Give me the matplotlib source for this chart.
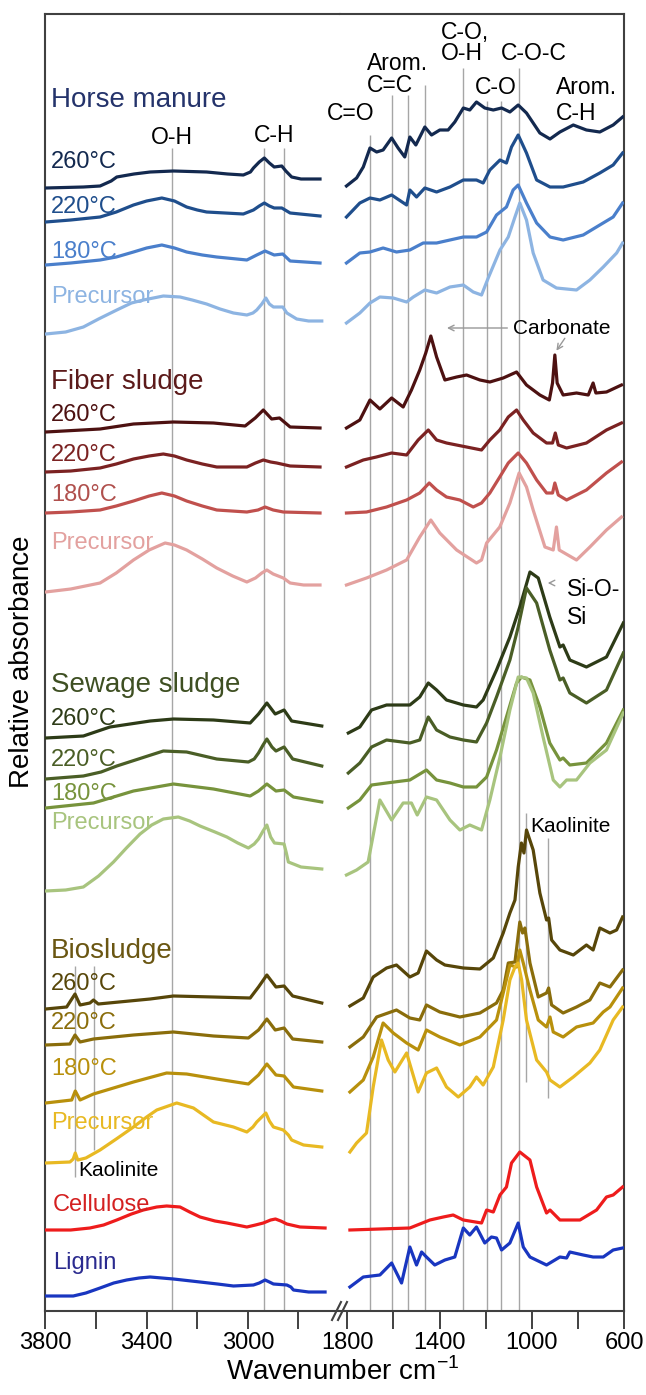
import matplotlib.pyplot as plt

plt.rcParams["font.family"] = ["Liberation Sans", "DejaVu Sans"]

# FTIR spectra, stacked with vertical offsets.
# Each list holds (wavenumber cm-1, offset absorbance) pairs,
# "_l" = 3800-2700 region, "_r" = 1800-600 region.

horse_260_l = [(3799, 1123), (3650, 1124), (3584, 1125), (3540, 1130), (3518, 1134), (3450, 1137), (3386, 1139),
               (3294, 1140), (3163, 1139), (3080, 1137), (3018, 1136), (2990, 1139), (2978, 1143), (2955, 1149),
               (2935, 1153), (2915, 1148), (2896, 1144), (2866, 1145), (2850, 1140), (2827, 1134), (2790, 1132),
               (2715, 1132)]
horse_220_l = [(3799, 1089), (3700, 1091), (3584, 1094), (3520, 1099), (3452, 1106), (3400, 1110), (3340, 1113),
               (3290, 1110), (3242, 1104), (3200, 1101), (3163, 1099), (3018, 1097), (2978, 1101), (2955, 1105),
               (2935, 1108), (2915, 1105), (2896, 1103), (2866, 1103), (2833, 1098), (2715, 1095)]
horse_180_l = [(3799, 1046), (3700, 1048), (3584, 1051), (3520, 1054), (3452, 1059), (3400, 1063), (3340, 1066),
               (3290, 1063), (3242, 1059), (3180, 1056), (3123, 1054), (3004, 1051), (2965, 1056), (2932, 1060),
               (2896, 1056), (2862, 1057), (2833, 1050), (2715, 1048)]
horse_pre_l = [(3799, 977), (3720, 979), (3650, 984), (3590, 992), (3518, 1001), (3460, 1008), (3413, 1011),
               (3334, 1015), (3268, 1014), (3220, 1011), (3163, 1007), (3110, 1002), (3057, 998), (3004, 996),
               (2980, 998), (2965, 1001), (2945, 1007), (2929, 1013), (2915, 1007), (2899, 1004), (2862, 1004),
               (2846, 998), (2807, 992), (2760, 990), (2708, 990)]

horse_260_r = [(1804, 1125), (1760, 1133), (1731, 1144), (1702, 1163), (1673, 1159), (1645, 1161), (1608, 1173),
               (1580, 1163), (1551, 1154), (1529, 1174), (1503, 1166), (1464, 1184), (1435, 1176), (1399, 1181),
               (1363, 1181), (1334, 1189), (1297, 1203), (1269, 1201), (1240, 1209), (1204, 1203), (1167, 1201),
               (1131, 1203), (1095, 1199), (1059, 1206), (1023, 1198), (965, 1178), (921, 1172), (878, 1179),
               (820, 1186), (763, 1181), (705, 1179), (647, 1186), (606, 1194)]
horse_220_r = [(1804, 1094), (1746, 1108), (1702, 1113), (1659, 1111), (1608, 1116), (1543, 1106), (1529, 1121),
               (1500, 1114), (1464, 1123), (1413, 1119), (1355, 1124), (1297, 1131), (1240, 1131), (1211, 1128),
               (1182, 1141), (1138, 1151), (1110, 1148), (1088, 1164), (1059, 1176), (1023, 1158), (979, 1131),
               (921, 1124), (864, 1124), (777, 1129), (705, 1138), (647, 1146), (606, 1158)]
horse_180_r = [(1804, 1048), (1746, 1058), (1702, 1059), (1645, 1063), (1587, 1059), (1529, 1061), (1471, 1068),
               (1413, 1068), (1355, 1071), (1297, 1074), (1240, 1074), (1196, 1079), (1153, 1096), (1110, 1104),
               (1081, 1121), (1059, 1126), (1023, 1108), (979, 1088), (921, 1074), (864, 1071), (777, 1076),
               (705, 1086), (647, 1094), (606, 1108)]
horse_pre_r = [(1804, 988), (1746, 998), (1702, 1008), (1659, 1014), (1601, 1013), (1543, 1009), (1514, 1014),
               (1464, 1021), (1413, 1018), (1355, 1024), (1297, 1026), (1254, 1019), (1218, 1016), (1189, 1033),
               (1138, 1061), (1102, 1074), (1073, 1094), (1052, 1108), (1023, 1091), (994, 1058), (951, 1031),
               (893, 1023), (806, 1021), (748, 1031), (690, 1044), (632, 1058), (606, 1068)]

fiber_260_l = [(3799, 879), (3584, 882), (3452, 887), (3294, 889), (3136, 888), (3011, 885), (2971, 893),
               (2939, 901), (2906, 892), (2875, 893), (2833, 884), (2715, 883)]
fiber_220_l = [(3799, 839), (3700, 840), (3584, 843), (3520, 847), (3452, 852), (3390, 855), (3334, 857),
               (3290, 855), (3242, 851), (3180, 847), (3123, 844), (3004, 844), (2970, 848), (2939, 851),
               (2910, 849), (2886, 848), (2833, 845), (2715, 844)]
fiber_180_l = [(3799, 798), (3700, 799), (3584, 801), (3520, 805), (3452, 810), (3390, 815), (3340, 818),
               (3290, 815), (3242, 810), (3180, 805), (3123, 801), (3004, 799), (2960, 801), (2932, 804),
               (2900, 801), (2860, 799), (2715, 798)]
fiber_pre_l = [(3799, 719), (3700, 722), (3584, 728), (3520, 738), (3452, 751), (3390, 761), (3327, 768),
               (3290, 766), (3242, 761), (3180, 752), (3123, 743), (3060, 735), (3004, 729), (2970, 733),
               (2945, 738), (2925, 741), (2900, 737), (2860, 733), (2833, 728), (2780, 726), (2715, 726)]

fiber_260_r = [(1804, 883), (1746, 891), (1702, 911), (1659, 902), (1608, 913), (1558, 904), (1522, 921),
               (1486, 941), (1460, 958), (1438, 975), (1413, 954), (1377, 931), (1326, 934), (1283, 936),
               (1225, 931), (1182, 929), (1124, 933), (1066, 939), (1023, 926), (965, 916), (924, 911),
               (910, 928), (900, 956), (890, 928), (864, 916), (806, 918), (755, 916), (734, 928), (722, 918),
               (676, 919), (611, 926)]
fiber_220_r = [(1804, 844), (1731, 851), (1674, 854), (1608, 858), (1543, 856), (1493, 871), (1449, 881),
               (1413, 871), (1370, 868), (1283, 864), (1218, 861), (1182, 871), (1139, 881), (1102, 894),
               (1066, 901), (1037, 891), (994, 878), (936, 868), (910, 868), (898, 878), (885, 866), (849, 863),
               (763, 868), (676, 881), (611, 888)]
fiber_180_r = [(1804, 798), (1717, 799), (1630, 804), (1543, 811), (1486, 818), (1445, 828), (1413, 821),
               (1370, 814), (1312, 811), (1254, 804), (1218, 808), (1182, 818), (1139, 834), (1102, 848),
               (1059, 858), (1023, 848), (979, 831), (936, 818), (910, 818), (900, 828), (885, 816), (849, 811),
               (763, 821), (676, 838), (611, 849)]
fiber_pre_r = [(1804, 726), (1717, 733), (1630, 741), (1543, 751), (1486, 774), (1438, 791), (1399, 778),
               (1326, 761), (1240, 748), (1218, 751), (1196, 768), (1139, 784), (1095, 808), (1055, 838),
               (1023, 824), (994, 801), (943, 764), (907, 761), (893, 784), (881, 761), (806, 751), (748, 764),
               (676, 781), (611, 794)]

sewage_260_l = [(3799, 573), (3650, 575), (3545, 584), (3386, 590), (3294, 592), (3136, 591), (2991, 588),
                (2958, 597), (2925, 608), (2892, 597), (2857, 601), (2827, 590), (2708, 585)]
sewage_220_l = [(3799, 532), (3650, 535), (3580, 539), (3518, 545), (3420, 553), (3334, 560), (3242, 559),
                (3123, 552), (2998, 549), (2975, 552), (2958, 558), (2940, 566), (2925, 572), (2905, 564),
                (2889, 560), (2857, 564), (2840, 558), (2823, 552), (2708, 545)]
sewage_180_l = [(3799, 503), (3610, 508), (3452, 520), (3294, 527), (3136, 522), (2991, 515), (2958, 520),
                (2925, 527), (2889, 520), (2857, 521), (2820, 514), (2708, 509)]
sewage_pre_l = [(3799, 420), (3720, 421), (3650, 424), (3590, 435), (3531, 449), (3480, 463), (3426, 477),
                (3380, 486), (3334, 492), (3275, 494), (3230, 490), (3189, 485), (3130, 479), (3083, 474),
                (3040, 468), (2998, 463), (2975, 467), (2958, 472), (2940, 480), (2925, 486), (2910, 474),
                (2895, 468), (2857, 467), (2848, 458), (2840, 449), (2790, 444), (2708, 442)]

sewage_260_r = [(1796, 578), (1746, 584), (1695, 601), (1630, 606), (1529, 606), (1486, 614), (1449, 628),
                (1413, 621), (1370, 611), (1297, 606), (1240, 604), (1211, 611), (1153, 641), (1095, 674),
                (1052, 704), (1008, 739), (972, 733), (922, 694), (878, 664), (864, 666), (835, 651),
                (763, 644), (676, 654), (603, 688)]
sewage_220_r = [(1796, 538), (1746, 548), (1695, 564), (1630, 571), (1529, 568), (1486, 571), (1449, 594),
                (1413, 581), (1355, 574), (1297, 571), (1240, 569), (1196, 588), (1153, 614), (1095, 651),
                (1059, 684), (1023, 723), (979, 708), (922, 661), (878, 631), (864, 633), (835, 618),
                (763, 608), (676, 621), (603, 658)]
sewage_180_r = [(1796, 503), (1746, 511), (1695, 526), (1630, 528), (1529, 531), (1457, 541), (1413, 531),
                (1355, 528), (1297, 524), (1240, 524), (1196, 534), (1153, 561), (1110, 594), (1066, 628),
                (1045, 634), (1008, 631), (965, 604), (922, 568), (878, 551), (864, 553), (835, 546),
                (763, 548), (676, 568), (603, 601)]
sewage_pre_r = [(1804, 436), (1760, 441), (1710, 449), (1659, 511), (1608, 491), (1558, 508), (1522, 508),
                (1497, 496), (1457, 514), (1413, 511), (1355, 491), (1312, 481), (1269, 486), (1218, 481),
                (1182, 511), (1138, 554), (1095, 601), (1059, 634), (1023, 633), (994, 618), (951, 574),
                (907, 531), (878, 524), (849, 531), (806, 531), (748, 548), (676, 561), (603, 598)]

bio_260_l = [(3799, 302), (3716, 304), (3683, 317), (3663, 306), (3624, 308), (3610, 311), (3591, 307),
             (3386, 312), (3294, 315), (3136, 314), (2991, 313), (2958, 324), (2925, 336), (2889, 324),
             (2857, 325), (2823, 315), (2708, 308)]
bio_220_l = [(3799, 266), (3703, 267), (3683, 276), (3663, 269), (3610, 272), (3452, 276), (3294, 279),
             (3136, 275), (2998, 273), (2958, 281), (2925, 292), (2892, 281), (2857, 283), (2823, 272),
             (2708, 269)]
bio_180_l = [(3799, 208), (3696, 211), (3682, 220), (3663, 211), (3610, 217), (3452, 229), (3321, 238),
             (3242, 237), (3123, 232), (2998, 227), (2958, 236), (2925, 247), (2889, 236), (2857, 235),
             (2820, 224), (2708, 220)]
bio_pre_l = [(3799, 148), (3703, 149), (3690, 152), (3682, 158), (3672, 151), (3640, 153), (3584, 161),
             (3520, 172), (3452, 184), (3400, 194), (3360, 201), (3281, 208), (3215, 203), (3170, 195),
             (3136, 189), (3057, 184), (3004, 179), (2980, 184), (2965, 189), (2945, 194), (2929, 198),
             (2915, 190), (2899, 184), (2860, 181), (2840, 176), (2827, 171), (2780, 166), (2708, 164)]

bio_260_r = [(1789, 305), (1731, 313), (1688, 334), (1630, 343), (1587, 346), (1529, 334), (1493, 338),
             (1457, 360), (1413, 351), (1377, 346), (1297, 343), (1225, 342), (1167, 353), (1124, 378),
             (1095, 398), (1073, 411), (1059, 444), (1045, 468), (1034, 458), (1023, 481), (994, 461),
             (965, 418), (936, 391), (927, 393), (914, 371), (878, 361), (820, 356), (763, 366), (734, 361),
             (705, 383), (661, 378), (632, 381), (606, 394)]
bio_220_r = [(1789, 264), (1731, 274), (1673, 294), (1587, 301), (1529, 293), (1486, 291), (1457, 306),
             (1399, 299), (1312, 294), (1225, 298), (1153, 308), (1124, 321), (1102, 348), (1073, 349),
             (1052, 389), (1040, 378), (1030, 383), (1008, 348), (972, 314), (936, 318), (927, 323),
             (914, 306), (864, 298), (806, 304), (748, 311), (705, 328), (661, 324), (606, 341)]
bio_180_r = [(1789, 219), (1731, 231), (1688, 254), (1645, 288), (1601, 278), (1543, 268), (1493, 261),
             (1457, 281), (1399, 274), (1312, 266), (1225, 274), (1153, 291), (1124, 318), (1095, 346),
             (1066, 344), (1052, 361), (1037, 348), (1008, 321), (972, 291), (936, 284), (921, 294),
             (907, 279), (864, 274), (806, 284), (734, 288), (690, 299), (661, 304), (606, 323)]
bio_pre_r = [(1789, 159), (1760, 168), (1717, 178), (1688, 224), (1652, 271), (1623, 251), (1594, 239),
             (1543, 258), (1493, 219), (1457, 238), (1413, 243), (1370, 224), (1319, 214), (1269, 224),
             (1240, 234), (1211, 226), (1167, 244), (1124, 291), (1095, 331), (1073, 344), (1059, 348),
             (1044, 331), (1023, 291), (979, 251), (936, 239), (921, 231), (878, 224), (820, 234),
             (748, 248), (705, 261), (647, 291), (606, 304)]

cellulose_l = [(3799, 81), (3700, 81), (3624, 83), (3570, 86), (3518, 91), (3460, 97), (3413, 101), (3360, 104),
               (3321, 105), (3268, 104), (3230, 99), (3189, 94), (3130, 90), (3083, 88), (3004, 84), (2970, 86),
               (2939, 88), (2910, 91), (2891, 92), (2870, 90), (2846, 87), (2794, 84), (2695, 83)]
cellulose_r = [(1789, 81), (1659, 82), (1529, 83), (1442, 91), (1384, 94), (1341, 96), (1297, 91),
               (1218, 88), (1196, 101), (1167, 99), (1138, 116), (1110, 124), (1088, 148), (1052, 159),
               (1008, 151), (979, 124), (936, 98), (921, 101), (878, 91), (791, 91), (719, 101), (676, 114),
               (647, 116), (606, 124)]

lignin_l = [(3799, 15), (3690, 15), (3640, 18), (3584, 23), (3530, 28), (3479, 31), (3430, 33), (3386, 34),
            (3340, 33), (3294, 32), (3189, 29), (3120, 27), (3057, 25), (2978, 26), (2955, 28), (2932, 31),
            (2915, 29), (2899, 27), (2846, 26), (2830, 24), (2820, 21), (2760, 19), (2695, 19)]
lignin_r = [(1789, 24), (1731, 34), (1659, 36), (1608, 48), (1565, 28), (1529, 64), (1500, 46), (1478, 59),
            (1457, 54), (1421, 46), (1377, 51), (1334, 54), (1297, 83), (1269, 76), (1240, 84), (1204, 68),
            (1175, 74), (1153, 73), (1131, 61), (1095, 68), (1059, 88), (1037, 64), (1008, 54), (936, 46),
            (878, 54), (849, 53), (835, 59), (777, 56), (734, 54), (690, 54), (647, 61), (606, 63)]

# band marker lines: (wavenumber, top of line)
bands_l = [(3300, 1163), (2935, 1163), (2858, 1163)]
bands_r = [(1700, 1176), (1608, 1216), (1535, 1216), (1464, 1226), (1297, 1243),
           (1196, 1210), (1135, 1210), (1055, 1243)]
kaolinite_l = [(3682, 345, 134), (3609, 345, 161)]
kaolinite_r = [(1025, 498, 229), (929, 473, 213)]

series = [
    (horse_260_l, horse_260_r, "#13294f"), (horse_220_l, horse_220_r, "#1f4e8c"),
    (horse_180_l, horse_180_r, "#4a7fcb"), (horse_pre_l, horse_pre_r, "#8db4e2"),
    (fiber_260_l, fiber_260_r, "#4d1111"), (fiber_220_l, fiber_220_r, "#7b2222"),
    (fiber_180_l, fiber_180_r, "#c0504d"), (fiber_pre_l, fiber_pre_r, "#e3a19f"),
    (sewage_260_l, sewage_260_r, "#2d3b17"), (sewage_220_l, sewage_220_r, "#4a5e26"),
    (sewage_180_l, sewage_180_r, "#77933c"), (sewage_pre_l, sewage_pre_r, "#a8c47e"),
    (bio_260_l, bio_260_r, "#574609"), (bio_220_l, bio_220_r, "#8a6d0b"),
    (bio_180_l, bio_180_r, "#b8900c"), (bio_pre_l, bio_pre_r, "#e8b923"),
    (cellulose_l, cellulose_r, "#ee1c1c"), (lignin_l, lignin_r, "#1936c0"),
]

W, H = 646, 1395


def fx(x):
    return x / W


def fy(y):
    return 1 - y / H


fig = plt.figure(figsize=(W / 100, H / 100), dpi=100)
bottom, top = fy(1311), fy(14)
ax_l = fig.add_axes([fx(45.4), bottom, fx(340) - fx(45.4), top - bottom])
ax_r = fig.add_axes([fx(340), bottom, fx(624) - fx(340), top - bottom], sharey=ax_l)

ax_l.set_xlim(3800, 2636)
ax_r.set_xlim(1832, 600)
ax_l.set_ylim(0, 1297)

grey = "#a6a6a6"
for wn, y1 in bands_l:
    ax_l.vlines(wn, 0, y1, color=grey, lw=1, zorder=1)
for wn, y1 in bands_r:
    ax_r.vlines(wn, 0, y1, color=grey, lw=1, zorder=1)
for wn, y1, y0 in kaolinite_l:
    ax_l.vlines(wn, y0, y1, color=grey, lw=1, zorder=1)
for wn, y1, y0 in kaolinite_r:
    ax_r.vlines(wn, y0, y1, color=grey, lw=1, zorder=1)

for left, right, col in series:
    ax_l.plot(*zip(*left), color=col, lw=2.3, solid_joinstyle="round", zorder=3)
    ax_r.plot(*zip(*right), color=col, lw=2.3, solid_joinstyle="round", zorder=3)

spine_col = "#404040"
for ax in (ax_l, ax_r):
    for s in ax.spines.values():
        s.set_color(spine_col)
        s.set_linewidth(1.5)
    ax.tick_params(axis="y", left=False, labelleft=False)
    ax.tick_params(axis="x", direction="out", length=13, width=1.4, color=spine_col,
                   labelsize=17, pad=2)
ax_l.spines["right"].set_visible(False)
ax_r.spines["left"].set_visible(False)

ax_l.set_xticks([3800, 3600, 3400, 3200, 3000, 2800])
ax_l.set_xticklabels(["3800", "", "3400", "", "3000", ""])
ax_r.set_xticks([1800, 1600, 1400, 1200, 1000, 800, 600])
ax_r.set_xticklabels(["1800", "", "1400", "", "1000", "", "600"])

# axis break marks
for dx in (0, 6):
    fig.add_artist(plt.Line2D([fx(332 + dx), fx(341 + dx)], [fy(1320), fy(1302)],
                              color=spine_col, lw=1.5))

fig.text(fx(343), fy(1372), r"Wavenumber cm$^{\mathregular{-1}}$", ha="center", va="center", fontsize=20)
fig.text(fx(22), fy(662), "Relative absorbance", rotation=90, ha="center", va="center", fontsize=20)

# sample labels
groups = [
    ("Horse manure", "#24336b", 100, [("260°C", "#13294f", 162), ("220°C", "#1f4e8c", 207),
                                      ("180°C", "#4a7fcb", 252), ("Precursor", "#8db4e2", 297)]),
    ("Fiber sludge", "#5c1a1a", 382, [("260°C", "#4d1111", 415), ("220°C", "#7b2222", 455),
                                      ("180°C", "#b0504d", 495), ("Precursor", "#e3a19f", 543)]),
    ("Sewage sludge", "#3e4f22", 685, [("260°C", "#2d3b17", 719), ("220°C", "#4a5e26", 760),
                                       ("180°C", "#77933c", 794), ("Precursor", "#a8c47e", 823)]),
    ("Biosludge", "#6a5612", 951, [("260°C", "#574609", 984), ("220°C", "#8a6d0b", 1023),
                                   ("180°C", "#b8900c", 1069), ("Precursor", "#e8b923", 1123)]),
]
for title, tcol, ty, rows in groups:
    fig.text(fx(51), fy(ty), title, color=tcol, fontsize=20, va="center")
    for lab, col, y in rows:
        fig.text(fx(51), fy(y), lab, color=col, fontsize=17, va="center")
fig.text(fx(53), fy(1205), "Cellulose", color="#d42020", fontsize=17, va="center")
fig.text(fx(53), fy(1263), "Lignin", color="#2b2b8f", fontsize=17, va="center")

# band assignments
fs = 16.5
fig.text(fx(172), fy(137), "O-H", fontsize=fs, ha="center", va="center")
fig.text(fx(274), fy(135), "C-H", fontsize=fs, ha="center", va="center")
fig.text(fx(351), fy(113), "C=O", fontsize=fs, ha="center", va="center")
fig.text(fx(367), fy(63), "Arom.", fontsize=fs, va="center")
fig.text(fx(367), fy(85), "C=C", fontsize=fs, va="center")
fig.text(fx(441), fy(32), "C-O,", fontsize=fs, va="center")
fig.text(fx(441), fy(53), "O-H", fontsize=fs, va="center")
fig.text(fx(496), fy(88), "C-O", fontsize=fs, ha="center", va="center")
fig.text(fx(501), fy(53), "C-O-C", fontsize=fs, va="center")
fig.text(fx(556), fy(87), "Arom.", fontsize=fs, va="center")
fig.text(fx(556), fy(113), "C-H", fontsize=fs, va="center")

fig.text(fx(562), fy(328), "Carbonate", fontsize=15, ha="center", va="center")
fig.text(fx(567), fy(590), "Si-O-", fontsize=fs, va="center")
fig.text(fx(567), fy(618), "Si", fontsize=fs, va="center")
fig.text(fx(78), fy(1170), "Kaolinite", fontsize=15, va="center")
fig.text(fx(530), fy(826), "Kaolinite", fontsize=15, va="center")

arrow = dict(arrowstyle="->", color="#999999", lw=1)
ax_r.annotate("", xy=(1380, 983), xytext=(1094, 983), arrowprops=arrow)
ax_r.annotate("", xy=(900, 958), xytext=(850, 975), arrowprops=arrow)
ax_r.annotate("", xy=(943, 728), xytext=(905, 728), arrowprops=arrow)

fig.savefig("out.png", dpi=100)
